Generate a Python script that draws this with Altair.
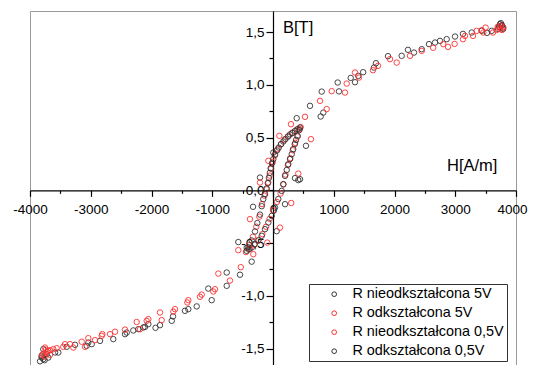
import altair as alt
import pandas as pd

series_names = ["R nieodkształcona 5V", "R odkształcona 5V",
                "R nieodkształcona 0,5V", "R odkształcona 0,5V"]
series_colors = ["#333333", "#ff3030", "#ff3030", "#333333"]

# (H [A/m], B [T])
black_5v = [
    (3750, 1.585), (3736, 1.575), (3764, 1.559), (3786, 1.543), (3770, 1.565), (3720, 1.550),
    (3790, 1.530), (3704, 1.531), (3600, 1.512), (3522, 1.493), (3435, 1.512), (3271, 1.496),
    (3127, 1.483), (2996, 1.458), (2859, 1.433), (2749, 1.417), (2667, 1.401), (2568, 1.386),
    (2448, 1.338), (2321, 1.306), (2222, 1.332), (2118, 1.275), (1893, 1.272), (1695, 1.205),
    (1662, 1.164), (1484, 1.120), (1404, 1.085), (1350, 1.025), (1279, 1.066), (1065, 1.022),
    (1086, 0.938), (802, 0.936), (609, 0.801), (828, 0.737), (785, 0.700), (390, 0.684),
    (543, 0.422), (362, 0.116), (416, 0.097), (444, 0.106), (5, 0.358), (-214, 0.121),
    (-329, -0.156), (198, -0.131), (61, -0.387), (-351, -0.676), (-433, -0.545),
    (-571, -0.490), (-543, -0.800), (-762, -0.779),
    (-762, -0.905), (-1065, -0.931), (-1009, -1.041), (-1256, -1.100), (-1394, -1.126),
    (-1449, -1.142), (-1646, -1.195), (-1667, -1.237), (-1860, -1.278), (-1934, -1.303),
    (-2107, -1.294), (-2217, -1.316), (-2300, -1.328), (-2052, -1.268), (-2135, -1.300),
    (-2408, -1.348), (-2436, -1.363), (-2629, -1.410), (-2848, -1.427), (-2984, -1.458),
    (-3040, -1.443), (-3067, -1.474), (-3259, -1.464), (-3396, -1.483), (-3534, -1.537),
    (-3588, -1.537), (-3699, -1.585), (-3725, -1.553), (-3781, -1.600), (-3807, -1.585),
    (-3810, -1.569), (-3781, -1.505), (-3835, -1.620), (-3760, -1.610),
]

red_5v = [
    (3750, 1.560), (3790, 1.545), (3770, 1.520), (3736, 1.531), (3700, 1.550), (3682, 1.520),
    (3621, 1.496), (3500, 1.543), (3435, 1.518), (3462, 1.496), (3353, 1.512), (3292, 1.464),
    (3160, 1.464), (3127, 1.433), (2990, 1.388), (2881, 1.360), (2803, 1.386), (2636, 1.351),
    (2448, 1.322), (2255, 1.275), (2036, 1.211), (1926, 1.244), (1728, 1.180), (1646, 1.139),
    (1416, 1.069), (1350, 1.117), (1213, 1.012), (1185, 0.927), (966, 0.940), (884, 0.770),
    (774, 0.848), (527, 0.697), (625, 0.485), (296, 0.627), (104, 0.517), (-77, 0.280),
    (-214, 0.074), (416, 0.159), (300, -0.120), (115, -0.353), (-94, -0.495), (-379, -0.273),
    (-571, -0.567), (-324, -0.605), (-530, -0.728), (-900, -0.789), (-708, -0.855),
    (-955, -0.937), (-983, -0.959), (-1174, -0.988), (-1202, -1.009), (-1394, -1.041),
    (-1410, -1.063), (-1613, -1.126), (-1641, -1.149), (-1860, -1.158), (-1832, -1.230),
    (-2052, -1.221), (-2079, -1.237), (-2244, -1.248), (-2189, -1.316), (-2436, -1.320),
    (-2600, -1.340), (-2683, -1.363), (-2810, -1.363), (-2820, -1.379), (-2930, -1.420),
    (-3040, -1.401), (-3094, -1.483), (-3149, -1.435), (-3287, -1.490), (-3341, -1.458),
    (-3424, -1.458), (-3452, -1.483), (-3561, -1.496), (-3616, -1.505), (-3671, -1.515),
    (-3699, -1.521), (-3753, -1.490), (-3781, -1.547), (-3671, -1.559), (-3760, -1.575),
    (-3720, -1.530), (-3800, -1.560), (-3740, -1.510),
]

red_05v = [
    (455, 0.600), (390, 0.575), (320, 0.548), (255, 0.515), (190, 0.478), (130, 0.438),
    (75, 0.390), (30, 0.330), (-5, 0.268), (-32, 0.205), (-55, 0.140), (-78, 0.075),
    (-105, 0.010), (-140, -0.050), (-180, -0.130), (-225, -0.250), (-275, -0.345),
    (-330, -0.440), (-390, -0.520), (-445, -0.585),
    (-380, -0.555), (-310, -0.515), (-240, -0.470), (-175, -0.415), (-115, -0.345),
    (-55, -0.270), (5, -0.190), (65, -0.110), (125, -0.030), (170, 0.055), (205, 0.150),
    (245, 0.240), (285, 0.305), (325, 0.380), (365, 0.450), (405, 0.510), (440, 0.580),
]

black_05v = [
    (444, 0.595), (405, 0.580), (362, 0.563), (318, 0.543), (280, 0.530), (245, 0.509),
    (205, 0.487), (170, 0.463), (132, 0.436), (95, 0.405), (65, 0.378), (33, 0.340),
    (5, 0.296), (-18, 0.255), (-38, 0.210), (-52, 0.166), (-68, 0.118), (-86, 0.068),
    (-105, 0.018), (-132, -0.034), (-160, -0.083), (-186, -0.150), (-214, -0.230),
    (-258, -0.310), (-296, -0.390), (-351, -0.475), (-407, -0.540), (-433, -0.573),
    (-400, -0.560), (-351, -0.542), (-300, -0.510), (-240, -0.475), (-186, -0.431),
    (-132, -0.368), (-77, -0.305), (-21, -0.242), (33, -0.163), (87, -0.083), (143, -0.005),
    (170, 0.059), (198, 0.137), (226, 0.193), (252, 0.248), (280, 0.296), (308, 0.343),
    (333, 0.391), (358, 0.438), (380, 0.478), (405, 0.517), (433, 0.571),
]

x_ticks = [-4000, -3500, -3000, -2500, -2000, -1500, -1000, -500, 0,
           500, 1000, 1500, 2000, 2500, 3000, 3500, 4000]
y_ticks = [-1.5, -1.25, -1.0, -0.75, -0.5, -0.25, 0.0, 0.25, 0.5, 0.75, 1.0, 1.25, 1.5]

x_domain = [-4000, 4000]
y_domain = [-1.6555, 1.7]

rows = []
for name, pts in zip(series_names, [black_5v, red_5v, red_05v, black_05v]):
    for h, b in pts:
        rows.append({"H": h, "B": b, "s": name})
df = pd.DataFrame(rows)

W, H = 486, 354
x_zero_px = W * (0 - x_domain[0]) / (x_domain[1] - x_domain[0])
y_zero_px = H * (y_domain[1] - 0) / (y_domain[1] - y_domain[0])

FONT = "Liberation Sans"

x_axis = alt.Axis(
    values=x_ticks, orient="bottom", offset=-(H - y_zero_px), title=None, grid=False,
    labelExpr="datum.value % 1000 === 0 ? '' + datum.value : ''",
    tickSize={"condition": {"test": "datum.value % 1000 === 0", "value": 6}, "value": 3},
    labelOffset={"condition": {"test": "datum.value === 4000", "value": -4}, "value": 0},
    domainColor="black", domainWidth=1.2, tickColor="black", tickWidth=1.2,
    labelFont=FONT, labelFontSize=13.5, labelColor="black", labelPadding=6,
    labelFlush=False, labelOverlap=False,
)
y_axis = alt.Axis(
    values=y_ticks, orient="left", offset=-x_zero_px, title=None, grid=False,
    labelExpr="datum.value % 0.5 === 0 ? replace(replace(format(datum.value, '.1f'), '−', '-'), '.', ',') : ''",
    tickSize={"condition": {"test": "datum.value % 0.5 === 0", "value": 7}, "value": 4},
    domainColor="black", domainWidth=1.2, tickColor="black", tickWidth=1.2,
    labelFont=FONT, labelFontSize=13.5, labelColor="black", labelPadding=2,
    labelFlush=False, labelOverlap=False,
)

points = alt.Chart(df).mark_point(filled=False, size=30, strokeWidth=0.9, opacity=1,
                                  shape="circle").encode(
    x=alt.X("H:Q", scale=alt.Scale(domain=x_domain, nice=False, zero=False), axis=x_axis),
    y=alt.Y("B:Q", scale=alt.Scale(domain=y_domain, nice=False, zero=False), axis=y_axis),
    color=alt.Color("s:N", scale=alt.Scale(domain=series_names, range=series_colors),
                    legend=alt.Legend(
                        orient="none", legendX=279, legendY=273, title=None, padding=3,
                        strokeColor="#333333", fillColor="white",
                        labelFont=FONT, labelFontSize=14.4, labelColor="black", labelLimit=400,
                        symbolType="circle", symbolSize=22, symbolStrokeWidth=1,
                        symbolOffset=15, labelOffset=11, rowPadding=4,
                    )),
)

b_title = alt.Chart(pd.DataFrame({"t": ["B[T]"]})).mark_text(
    align="left", baseline="middle", font=FONT, fontSize=16.5, color="black"
).encode(text="t:N", x=alt.value(253), y=alt.value(16.5))

h_title = alt.Chart(pd.DataFrame({"t": ["H[A/m]"]})).mark_text(
    align="left", baseline="middle", font=FONT, fontSize=16.5, color="black"
).encode(text="t:N", x=alt.value(417), y=alt.value(155))

chart = alt.layer(points, b_title, h_title).properties(
    width=W, height=H,
    autosize=alt.AutoSizeParams(type="none"),
    padding={"left": 22, "top": 3, "right": 12, "bottom": 0},
).configure_view(stroke="#999999", strokeWidth=1)

chart.save("out.html", embed_options={"renderer": "svg", "actions": False})
